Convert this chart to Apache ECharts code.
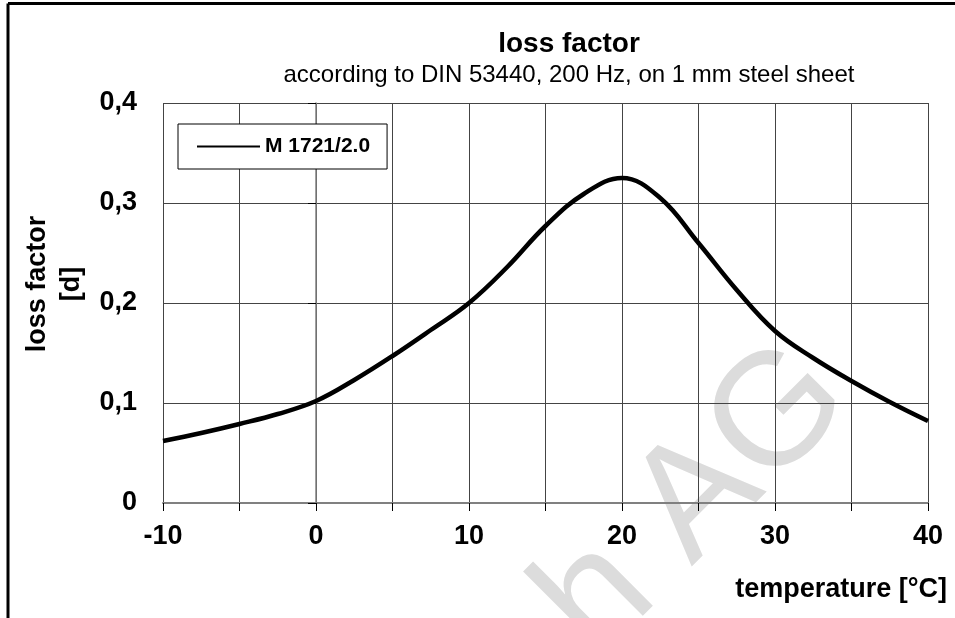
<!DOCTYPE html>
<html>
<head>
<meta charset="utf-8">
<script src="https://cdn.jsdelivr.net/npm/echarts@6/dist/echarts.min.js"></script>
<style>
  html, body { margin: 0; padding: 0; background: #fff; }
  #main { width: 955px; height: 618px; }
</style>
</head>
<body>
<div id="main"></div>
<script>
// temperature [°C] and loss factor
const temps = [-10, -7.5, -5, -2.5, 0, 2.5, 5, 7.5, 10, 12.5, 15, 17.5, 20, 22.5, 25, 27.5, 30, 32.5, 35, 37.5, 40]
const lossFactor = [0.062, 0.070, 0.079, 0.089, 0.102, 0.123, 0.147, 0.173, 0.200, 0.236, 0.277, 0.309, 0.325, 0.305, 0.260, 0.213, 0.172, 0.145, 0.122, 0.101, 0.082]
const seriesName = 'M 1721/2.0'

const font = 'Liberation Sans, Arial, sans-serif'
const chart = echarts.init(document.getElementById('main'))

const option = {
  backgroundColor: '#fff',
  animation: false,
  title: {
    text: 'loss factor',
    subtext: 'according to DIN 53440, 200 Hz, on 1 mm steel sheet',
    left: 564,
    top: 25,
    textAlign: 'center',
    itemGap: 5,
    textStyle: { fontFamily: font, fontSize: 28, fontWeight: 'bold', color: '#000' },
    subtextStyle: { fontFamily: font, fontSize: 24, color: '#000' }
  },
  legend: {
    left: 178,
    top: 124,
    orient: 'horizontal',
    backgroundColor: '#fff',
    borderColor: '#000',
    borderWidth: 1,
    padding: [12, 17, 12, 19],
    icon: 'rect',
    itemWidth: 63,
    itemHeight: 2,
    textStyle: { fontFamily: font, fontSize: 21, fontWeight: 'bold', color: '#000' },
    data: [seriesName]
  },
  grid: { left: 163, right: 27, top: 103, bottom: 115 },
  xAxis: {
    type: 'value',
    min: -10,
    max: 40,
    interval: 5,
    name: 'temperature [°C]',
    nameLocation: 'end',
    nameGap: 19,
    nameTextStyle: {
      fontFamily: font, fontSize: 27, fontWeight: 'bold', color: '#000',
      align: 'right', verticalAlign: 'top', padding: [73, 0, 0, 0]
    },
    axisLine: { show: true, lineStyle: { color: '#808080', width: 2 } },
    axisTick: { show: true, length: 8, lineStyle: { color: '#000', width: 1 } },
    axisLabel: {
      margin: 20,
      fontFamily: font, fontSize: 27, fontWeight: 'bold', color: '#000',
      formatter: function (v) { return v % 10 === 0 ? String(v) : '' }
    },
    splitLine: { show: true, lineStyle: { color: '#444', width: 1 } }
  },
  yAxis: {
    type: 'value',
    min: 0,
    max: 0.4,
    interval: 0.1,
    name: 'loss factor\n[d]',
    nameLocation: 'middle',
    nameRotate: 90,
    nameGap: 72,
    nameTextStyle: {
      fontFamily: font, fontSize: 27, fontWeight: 'bold', color: '#000',
      lineHeight: 34, padding: [0, 0, 0, 38]
    },
    axisLine: { show: true, lineStyle: { color: '#808080', width: 1.5 } },
    axisTick: { show: true, length: 8, lineStyle: { color: '#000', width: 1 } },
    axisLabel: {
      margin: 26,
      fontFamily: font, fontSize: 27, fontWeight: 'bold', color: '#000',
      formatter: function (v) { return v === 0 ? '0' : v.toFixed(1).replace('.', ',') }
    },
    splitLine: { show: true, lineStyle: { color: '#444', width: 1 } }
  },
  graphic: [
    // frame of the original sheet (top and left edge only)
    { type: 'line', z: 100, shape: { x1: 8, y1: 3.5, x2: 955, y2: 3.5 }, style: { stroke: '#000', lineWidth: 3 } },
    { type: 'line', z: 100, shape: { x1: 8, y1: 3.5, x2: 8, y2: 618 }, style: { stroke: '#000', lineWidth: 3 } },
    // watermark
    {
      type: 'text', z: -10, silent: true,
      x: 566, y: 630, rotation: Math.PI / 4,
      style: { text: 'h AG', font: '160px Liberation Sans, Arial, sans-serif', fill: '#dcdcdc', textAlign: 'left', textVerticalAlign: 'middle' }
    }
  ],
  series: [
    {
      name: seriesName,
      type: 'line',
      data: temps.map((t, i) => [t, lossFactor[i]]),
      smooth: 0.4,
      symbol: 'none',
      lineStyle: { color: '#000', width: 4.5 },
      itemStyle: { color: '#000' }
    }
  ]
}

chart.setOption(option)
</script>
</body>
</html>
